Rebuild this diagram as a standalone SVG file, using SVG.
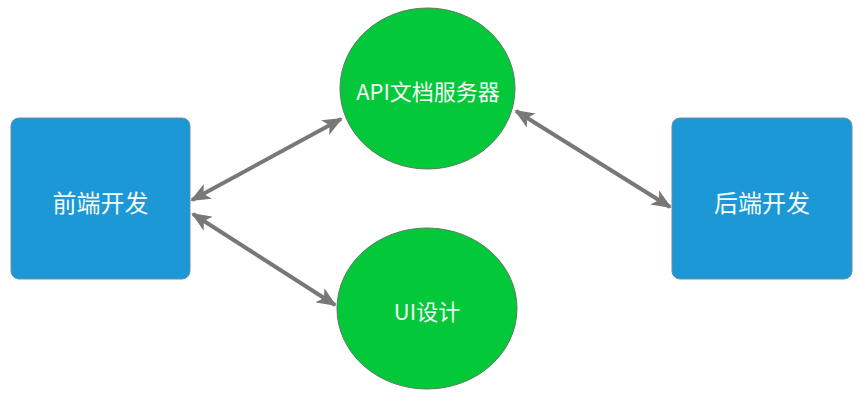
<svg xmlns="http://www.w3.org/2000/svg" width="867" height="403" viewBox="0 0 867 403">
  <defs>
    <marker id="arr" viewBox="0 0 10 10" refX="9" refY="5" markerWidth="5" markerHeight="4.2" markerUnits="strokeWidth" orient="auto-start-reverse" preserveAspectRatio="none">
      <path d="M0,0 L10,5 L0,10 L2.5,5 Z" fill="#787878"/>
    </marker>
  </defs>
  <style>
    .box { fill: #1b98d5; stroke: #6f8fa0; stroke-width: 1; }
    .circ { fill: #03c93a; stroke: #5a7a60; stroke-width: 1; }
    .lbl { fill: #f4fbf6; font-family: "Noto Sans CJK SC", "Noto Sans", sans-serif; text-anchor: middle; dominant-baseline: central; }
    .conn { stroke: #787878; stroke-width: 4; fill: none; marker-start: url(#arr); marker-end: url(#arr); }
  </style>
  <rect width="867" height="403" fill="#ffffff"/>
  <g id="connectors">
    <line class="conn" x1="192" y1="200" x2="341" y2="119"/>
    <line class="conn" x1="193" y1="214" x2="335" y2="305"/>
    <line class="conn" x1="516" y1="111" x2="670" y2="207"/>
  </g>
  <g id="frontend">
    <rect class="box" x="11" y="118" width="179" height="161" rx="8"/>
    <text class="lbl" x="100.5" y="201" font-size="24">前端开发</text>
  </g>
  <g id="backend">
    <rect class="box" x="672" y="118" width="180" height="161" rx="8"/>
    <text class="lbl" x="762" y="201" font-size="24">后端开发</text>
  </g>
  <g id="api">
    <ellipse class="circ" cx="427.5" cy="88.5" rx="87.5" ry="80.5"/>
    <text class="lbl" x="428" y="90" font-size="22">API文档服务器</text>
  </g>
  <g id="ui">
    <ellipse class="circ" cx="427" cy="308.5" rx="90" ry="80.5"/>
    <text class="lbl" x="427" y="310" font-size="22">UI设计</text>
  </g>
</svg>
